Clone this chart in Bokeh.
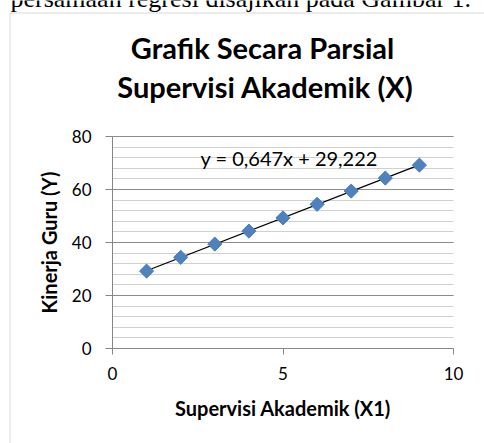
import numpy as np
from bokeh.plotting import figure
from bokeh.models import (Range1d, SingleIntervalTicker, FixedTicker, Label,
                          BoxAnnotation, ColumnDataSource, Grid)
from bokeh.embed import file_html
from bokeh.resources import INLINE

# ---- data ----
x_vals = [1, 2, 3, 4, 5, 6, 7, 8, 9]
y_vals = [29.2, 34.4, 39.4, 44.3, 49.3, 54.4, 59.4, 64.3, 69.2]
x_ticks = [0, 5, 10]
x_bounds = (0, 10)
y_bounds = (0, 80)
title_lines = ["Grafik Secara Parsial", "Supervisi Akademik (X)"]
x_title = "Supervisi Akademik (X1)"
y_title = "Kinerja Guru (Y)"
equation = "y = 0,647x + 29,222"
caption = "persamaan regresi disajikan pada Gambar 1."

# ---- layout constants (pixels) ----
W, H = 484, 443
X0_PX, X10_PX = 112, 453     # where x=0 and x=10 fall
Y0_PX, Y80_PX = 348, 136     # where y=0 and y=80 fall
xpx = (X10_PX - X0_PX) / 10.0
ypx = (Y0_PX - Y80_PX) / 80.0

FONT = "Lato"
GRID_MAJOR = "#8c8c8c"
GRID_MINOR = "#d0d0d0"
AXIS_COL = "#868686"

p = figure(width=W, height=H, output_backend="svg", toolbar_location=None,
           x_range=Range1d(-X0_PX / xpx, (W - X0_PX) / xpx),
           y_range=Range1d(-(H - Y0_PX) / ypx, Y0_PX / ypx),
           min_border_left=0, min_border_right=0,
           min_border_top=0, min_border_bottom=0)
p.outline_line_color = None
p.background_fill_color = "white"
p.border_fill_color = "white"

# axes (placed at x=0 / y=0 inside the full-canvas frame)
xa = p.xaxis[0]
xa.fixed_location = 0
xa.bounds = x_bounds
xa.ticker = FixedTicker(ticks=x_ticks)
xa.axis_line_color = AXIS_COL
xa.major_tick_line_color = AXIS_COL
xa.major_tick_out = 6
xa.major_tick_in = 0
xa.minor_tick_out = 0
xa.minor_tick_in = 0
xa.major_label_standoff = 12
xa.major_label_text_font = FONT
xa.major_label_text_font_size = "17px"
xa.major_label_text_color = "black"
xa.axis_label = x_title
xa.axis_label_text_font = FONT
xa.axis_label_text_font_style = "bold"
xa.axis_label_text_font_size = "20px"
xa.axis_label_text_color = "black"
xa.axis_label_standoff = 13

ya = p.yaxis[0]
ya.fixed_location = 0
ya.bounds = y_bounds
ya.ticker = SingleIntervalTicker(interval=20, num_minor_ticks=5)
ya.axis_line_color = AXIS_COL
ya.major_tick_line_color = AXIS_COL
ya.major_tick_out = 7
ya.major_tick_in = 0
ya.minor_tick_out = 0
ya.minor_tick_in = 0
ya.major_label_standoff = 14
ya.major_label_text_font = FONT
ya.major_label_text_font_size = "17px"
ya.major_label_text_color = "black"
ya.axis_label = y_title
ya.axis_label_text_font = FONT
ya.axis_label_text_font_style = "bold"
ya.axis_label_text_font_size = "20px"
ya.axis_label_text_color = "black"
ya.axis_label_standoff = 8

p.xgrid.visible = False
yg = p.ygrid[0]
yg.bounds = y_bounds
yg.grid_line_color = GRID_MAJOR
yg.minor_grid_line_color = GRID_MINOR
if "cross_bounds" in Grid.properties():
    yg.cross_bounds = x_bounds
else:
    yg.visible = False
    major = list(range(y_bounds[0], y_bounds[1] + 1, 20))
    minor = [v for v in range(y_bounds[0], y_bounds[1] + 1, 4) if v not in major]
    p.segment(x0=[x_bounds[0]] * len(minor), x1=[x_bounds[1]] * len(minor),
              y0=minor, y1=minor, line_color=GRID_MINOR, line_width=1)
    p.segment(x0=[x_bounds[0]] * len(major), x1=[x_bounds[1]] * len(major),
              y0=major, y1=major, line_color=GRID_MAJOR, line_width=1)

# trendline (least squares fit of the data)
slope, intercept = np.polyfit(x_vals, y_vals, 1)
tx = [min(x_vals), max(x_vals)]
ty = [slope * v + intercept for v in tx]
p.line(tx, ty, line_color="black", line_width=1.3)

src = ColumnDataSource(dict(x=x_vals, y=y_vals))
p.scatter("x", "y", source=src, marker="square", size=10, angle=np.pi / 4,
          fill_color="#4F81BD", line_color="#4A7EBB")

p.add_layout(Label(x=2.58, y=71.7, text=equation, text_font=FONT,
                   text_font_size="20px", text_color="black",
                   text_baseline="alphabetic"))

# titles (screen units: from left / from bottom of the canvas-wide frame)
p.add_layout(Label(x=262, y=H - 47, x_units="screen", y_units="screen",
                   text=title_lines[0], text_font=FONT, text_font_style="bold",
                   text_font_size="29px", text_align="center",
                   text_baseline="alphabetic", text_color="black"))
p.add_layout(Label(x=265, y=H - 86, x_units="screen", y_units="screen",
                   text=title_lines[1], text_font=FONT, text_font_style="bold",
                   text_font_size="29px", text_align="center",
                   text_baseline="alphabetic", text_color="black"))

# cut-off caption line above the chart box
p.add_layout(Label(x=10, y=H + 2, x_units="screen", y_units="screen",
                   text=caption, text_font="Liberation Serif",
                   text_font_size="26px", text_baseline="alphabetic",
                   text_color="black"))

# chart box border (only left and top edges are inside the picture)
p.add_layout(BoxAnnotation(left=9.5, right=W + 50, top=H - 12.5, bottom=-50,
                           left_units="screen", right_units="screen",
                           top_units="screen", bottom_units="screen",
                           fill_color=None, line_color="#7f7f7f", line_width=1))

open("out.html", "w").write(file_html(p, INLINE))
